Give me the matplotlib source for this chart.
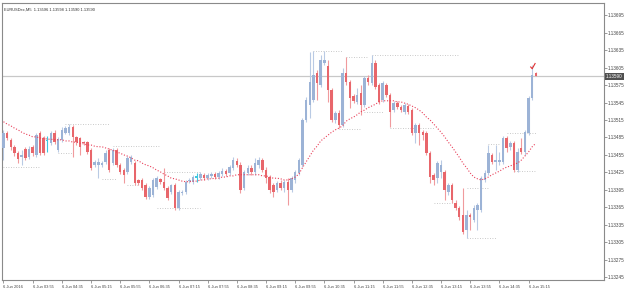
import matplotlib
matplotlib.use("Agg")
import matplotlib.pyplot as plt
import numpy as np

plt.rcParams['font.family'] = ['Liberation Sans', 'DejaVu Sans']

title_text = "EURUSDec,M5  1.13596 1.13598 1.13590 1.13590"

opens = [1.13467,1.13493,1.13481,1.13469,1.13458,1.13451,1.13465,1.13451,1.13469,1.13455,
         1.13493,1.13484,1.13479,1.13475,1.13493,1.13463,1.13481,1.13493,1.13493,1.13503,
         1.13486,1.13484,1.13477,1.13477,1.13463,1.13438,1.13438,1.13438,1.13443,1.13463,
         1.13441,1.13463,1.13438,1.13429,1.13426,1.13443,1.13441,1.13412,1.13412,1.13403,
         1.13383,1.13386,1.13400,1.13414,1.13409,1.13398,1.13391,1.13403,1.13364,1.13390,
         1.13391,1.13410,1.13409,1.13415,1.13415,1.13421,1.13415,1.13419,1.13422,1.13417,
         1.13422,1.13427,1.13424,1.13433,1.13445,1.13438,1.13398,1.13424,1.13433,1.13426,
         1.13438,1.13446,1.13429,1.13417,1.13403,1.13395,1.13407,1.13398,1.13409,1.13395,
         1.13412,1.13424,1.13438,1.13515,1.13541,1.13549,1.13596,1.13575,1.13613,1.13608,
         1.13566,1.13515,1.13527,1.13506,1.13596,1.13580,1.13556,1.13546,1.13561,1.13541,
         1.13587,1.13578,1.13613,1.13575,1.13549,1.13575,1.13558,1.13532,1.13544,1.13537,
         1.13529,1.13539,1.13532,1.13493,1.13506,1.13494,1.13493,1.13458,1.13421,1.13415,
         1.13426,1.13426,1.13391,1.13403,1.13372,1.13364,1.13352,1.13326,1.13352,1.13343,
         1.13360,1.13360,1.13412,1.13424,1.13455,1.13443,1.13443,1.13443,1.13484,1.13469,
         1.13475,1.13429,1.13467,1.13460,1.13493,1.13553,1.13596]
closes = [1.13493,1.13484,1.13469,1.13458,1.13448,1.13455,1.13450,1.13465,1.13458,1.13489,
          1.13458,1.13458,1.13481,1.13493,1.13477,1.13482,1.13498,1.13501,1.13503,1.13486,
          1.13477,1.13469,1.13475,1.13460,1.13433,1.13443,1.13443,1.13441,1.13458,1.13429,
          1.13463,1.13438,1.13426,1.13421,1.13450,1.13451,1.13407,1.13407,1.13398,1.13383,
          1.13398,1.13412,1.13415,1.13409,1.13398,1.13381,1.13403,1.13364,1.13391,1.13391,
          1.13409,1.13412,1.13417,1.13419,1.13422,1.13415,1.13421,1.13422,1.13417,1.13424,
          1.13427,1.13422,1.13434,1.13446,1.13438,1.13395,1.13426,1.13433,1.13426,1.13441,
          1.13446,1.13429,1.13415,1.13395,1.13391,1.13407,1.13398,1.13409,1.13395,1.13415,
          1.13426,1.13446,1.13515,1.13549,1.13580,1.13592,1.13578,1.13618,1.13618,1.13566,
          1.13515,1.13527,1.13506,1.13596,1.13580,1.13553,1.13548,1.13558,1.13541,1.13587,
          1.13580,1.13613,1.13572,1.13546,1.13578,1.13558,1.13529,1.13544,1.13537,1.13532,
          1.13541,1.13529,1.13493,1.13506,1.13493,1.13489,1.13458,1.13417,1.13412,1.13441,
          1.13438,1.13395,1.13403,1.13378,1.13364,1.13348,1.13323,1.13352,1.13348,1.13364,
          1.13369,1.13415,1.13424,1.13458,1.13443,1.13446,1.13446,1.13484,1.13467,1.13475,
          1.13429,1.13460,1.13460,1.13494,1.13553,1.13592,1.13590]
highs = [1.13498,1.13496,1.13484,1.13472,1.13462,1.13463,1.13469,1.13470,1.13472,1.13493,
         1.13496,1.13488,1.13488,1.13496,1.13498,1.13486,1.13503,1.13505,1.13508,1.13506,
         1.13488,1.13486,1.13479,1.13479,1.13467,1.13446,1.13450,1.13445,1.13463,1.13467,
         1.13467,1.13467,1.13441,1.13433,1.13453,1.13455,1.13445,1.13414,1.13415,1.13407,
         1.13402,1.13415,1.13419,1.13415,1.13433,1.13402,1.13405,1.13407,1.13395,1.13395,
         1.13412,1.13415,1.13421,1.13424,1.13426,1.13424,1.13424,1.13426,1.13426,1.13427,
         1.13433,1.13431,1.13438,1.13451,1.13450,1.13443,1.13429,1.13438,1.13438,1.13450,
         1.13451,1.13450,1.13434,1.13421,1.13407,1.13410,1.13412,1.13412,1.13415,1.13419,
         1.13429,1.13450,1.13518,1.13554,1.13632,1.13633,1.13601,1.13627,1.13633,1.13618,
         1.13570,1.13530,1.13532,1.13604,1.13623,1.13584,1.13560,1.13570,1.13575,1.13590,
         1.13592,1.13627,1.13618,1.13578,1.13582,1.13578,1.13561,1.13548,1.13548,1.13541,
         1.13544,1.13542,1.13536,1.13510,1.13510,1.13498,1.13496,1.13462,1.13424,1.13445,
         1.13446,1.13429,1.13407,1.13407,1.13378,1.13367,1.13398,1.13360,1.13355,1.13369,
         1.13372,1.13419,1.13429,1.13472,1.13458,1.13472,1.13460,1.13488,1.13488,1.13479,
         1.13479,1.13467,1.13484,1.13498,1.13556,1.13609,1.13598]
lows = [1.13446,1.13481,1.13463,1.13453,1.13441,1.13438,1.13446,1.13448,1.13453,1.13451,
        1.13455,1.13455,1.13460,1.13472,1.13474,1.13460,1.13477,1.13491,1.13489,1.13451,
        1.13472,1.13455,1.13472,1.13457,1.13429,1.13434,1.13415,1.13434,1.13439,1.13426,
        1.13438,1.13434,1.13422,1.13407,1.13422,1.13439,1.13403,1.13403,1.13395,1.13379,
        1.13379,1.13383,1.13397,1.13405,1.13395,1.13378,1.13388,1.13360,1.13360,1.13386,
        1.13388,1.13407,1.13405,1.13409,1.13412,1.13412,1.13412,1.13415,1.13414,1.13414,
        1.13419,1.13419,1.13421,1.13429,1.13434,1.13390,1.13395,1.13421,1.13421,1.13421,
        1.13433,1.13426,1.13407,1.13390,1.13383,1.13391,1.13395,1.13391,1.13369,1.13391,
        1.13407,1.13421,1.13434,1.13512,1.13518,1.13546,1.13549,1.13572,1.13609,1.13546,
        1.13512,1.13510,1.13501,1.13503,1.13575,1.13536,1.13544,1.13542,1.13524,1.13537,
        1.13575,1.13575,1.13568,1.13542,1.13546,1.13554,1.13503,1.13529,1.13534,1.13529,
        1.13525,1.13525,1.13489,1.13475,1.13472,1.13481,1.13455,1.13407,1.13403,1.13407,
        1.13415,1.13378,1.13386,1.13372,1.13360,1.13343,1.13319,1.13312,1.13326,1.13340,
        1.13326,1.13357,1.13409,1.13421,1.13439,1.13429,1.13438,1.13439,1.13460,1.13463,
        1.13426,1.13426,1.13457,1.13455,1.13489,1.13549,1.13590]

ma_values = [1.13512,1.13508,1.13505,1.13501,1.13498,1.13494,1.13491,1.13489,1.13486,1.13486,
             1.13484,1.13484,1.13482,1.13482,1.13481,1.13481,1.13481,1.13479,1.13479,1.13477,
             1.13477,1.13475,1.13474,1.13472,1.13472,1.13470,1.13469,1.13469,1.13467,1.13465,
             1.13463,1.13460,1.13458,1.13455,1.13453,1.13450,1.13446,1.13445,1.13441,1.13438,
             1.13436,1.13433,1.13429,1.13426,1.13422,1.13419,1.13415,1.13414,1.13412,1.13410,
             1.13409,1.13409,1.13410,1.13410,1.13412,1.13412,1.13414,1.13414,1.13415,1.13415,
             1.13417,1.13417,1.13419,1.13419,1.13421,1.13421,1.13421,1.13421,1.13421,1.13421,
             1.13421,1.13419,1.13419,1.13417,1.13415,1.13415,1.13414,1.13412,1.13412,1.13414,
             1.13417,1.13422,1.13433,1.13443,1.13453,1.13463,1.13470,1.13479,1.13484,1.13489,
             1.13494,1.13498,1.13501,1.13505,1.13513,1.13517,1.13520,1.13524,1.13529,1.13532,
             1.13536,1.13539,1.13542,1.13546,1.13548,1.13548,1.13548,1.13548,1.13546,1.13546,
             1.13544,1.13542,1.13539,1.13536,1.13532,1.13527,1.13520,1.13515,1.13508,1.13501,
             1.13494,1.13486,1.13477,1.13469,1.13460,1.13451,1.13441,1.13433,1.13424,1.13417,
             1.13414,1.13412,1.13414,1.13417,1.13421,1.13424,1.13427,1.13431,1.13434,1.13436,
             1.13439,1.13441,1.13446,1.13453,1.13460,1.13469,1.13475]

bull_special = [12, 53]  # cyan candles

level_prices = [1.13508,1.13434,1.13458,1.13470,1.13414,1.13403,1.13364,1.13426,
                1.13633,1.13623,1.13627,1.13529,1.13499,1.13501,1.13398,1.13372,
                1.13312,1.13474,1.13493,1.13427]
level_start = [17,0,15,30,27,34,42,44,85,94,101,99,92,106,127,118,127,133,138,140]
level_end = [29,10,19,43,31,37,54,54,93,100,125,104,98,118,133,123,135,136,146,146]

ytick_values = [1.13245,1.13275,1.13305,1.13335,1.13365,1.13395,1.13425,1.13455,
                1.13485,1.13515,1.13545,1.13575,1.13605,1.13635,1.13665,1.13695]
xtick_bars = [0,8,16,24,32,40,48,56,64,72,80,88,96,104,112,120,128,136,144]
xtick_labels = ["6 Jun 2016","6 Jun 03:55","6 Jun 04:35","6 Jun 05:15","6 Jun 05:55",
                "6 Jun 06:35","6 Jun 07:15","6 Jun 07:55","6 Jun 08:35","6 Jun 09:15",
                "6 Jun 09:55","6 Jun 10:35","6 Jun 11:15","6 Jun 11:55","6 Jun 12:35",
                "6 Jun 13:15","6 Jun 13:55","6 Jun 14:35","6 Jun 15:15"]
last_price = 1.13590

BULL = "#9cb3d6"
BEAR = "#e8666b"
BULL_W = "#b9cae4"
BEAR_W = "#f09a9d"
CYAN = "#3cc8e0"

fig = plt.figure(figsize=(6.25, 2.91), dpi=100)
fig.patch.set_facecolor("white")
ax = fig.add_axes([2/625, 11/291, 602/625, 277/291])
ax.set_facecolor("white")

o = np.array(opens); c = np.array(closes); h = np.array(highs); l = np.array(lows)
x = np.arange(len(o))

# current price line
ax.axhline(last_price, color="#c8c8c8", lw=0.9, zorder=1)

# levels
for p, s, e in zip(level_prices, level_start, level_end):
    ax.plot([s, e], [p, p], color="#b8b8b8", lw=0.6, ls=(0, (1, 2)), zorder=1)

for i in x:
    up = c[i] >= o[i]
    if i in bull_special:
        col, wcol = CYAN, CYAN
    else:
        col = BULL if up else BEAR
        wcol = BULL_W if up else BEAR_W
    ax.vlines(i, l[i], h[i], color=wcol, lw=0.8, zorder=2)
    bot = min(o[i], c[i]); ht = max(abs(c[i] - o[i]), 0.000012)
    ax.bar(i, ht, bottom=bot, width=0.68, color=col, lw=0, zorder=3)

# moving average
ax.plot(x, ma_values, color="#e8405a", lw=0.8, ls=(0, (1, 1.6)), zorder=4)

# signal mark
ax.plot([144.6, 145.0, 145.8], [1.13606, 1.13603, 1.13612], color="#e03030", lw=0.8, zorder=5)

ax.set_xlim(-0.41, 164.7)
ax.set_ylim(1.132402, 1.137159)

for s in ax.spines.values():
    s.set_color("#8a8a8a"); s.set_linewidth(0.8)

ax.yaxis.tick_right()
ax.set_yticks(ytick_values)
ax.set_yticklabels([f"{v:.5f}" for v in ytick_values])
ax.tick_params(axis="y", direction="out", length=2, width=0.6, colors="#8a8a8a",
               labelsize=3.3, labelcolor="#444444", pad=1.0)
ax.set_xticks(xtick_bars)
ax.set_xticklabels(xtick_labels)
ax.tick_params(axis="x", direction="out", length=2, width=0.6, colors="#8a8a8a",
               labelsize=2.9, labelcolor="#444444", pad=1.5)
for t in ax.get_xticklabels():
    t.set_horizontalalignment("left")

# price box
ax.text(1.003, last_price, f"{last_price:.5f}", transform=ax.get_yaxis_transform(),
        fontsize=3.3, color="white", va="center", ha="left",
        bbox=dict(boxstyle="square,pad=0.25", fc="#505050", ec="none"), zorder=10, clip_on=False)

ax.text(0.004, 0.985, title_text, transform=ax.transAxes, fontsize=2.9, color="#333333",
        va="top", ha="left")

fig.savefig("out.png", dpi=100)
